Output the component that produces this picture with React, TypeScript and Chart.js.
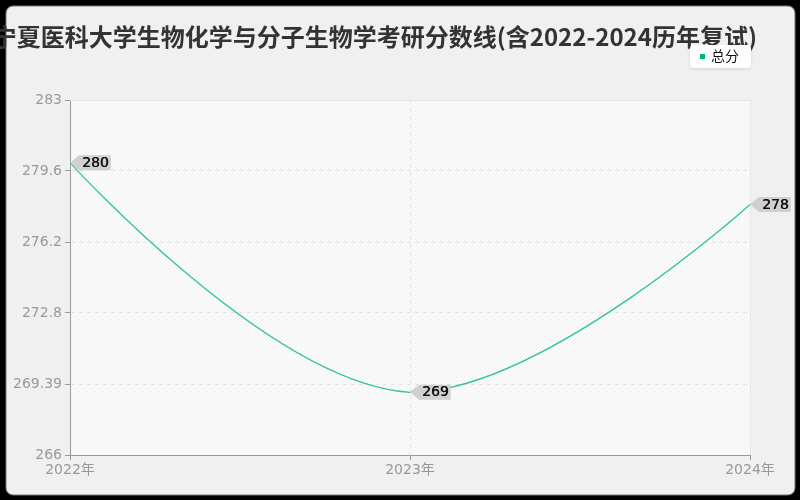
import React, { useEffect, useRef } from 'react';
import { Chart, registerables } from 'chart.js';

Chart.register(...registerables);

const titleText = '宁夏医科大学生物化学与分子生物学考研分数线(含2022-2024历年复试)';
const years = ['2022年', '2023年', '2024年'];
const totalScores = [280, 269, 278];
const yTickValues = [266, 269.4, 272.8, 276.2, 279.6, 283];
const yTickLabels = ['266', '269.39', '272.8', '276.2', '279.6', '283'];
const seriesName = '总分';

const lineColor = '#2ec49a';

const framePlugin = {
  id: 'frame',
  beforeDraw(chart: any) {
    const { ctx, width, height, chartArea } = chart;
    ctx.save();
    ctx.fillStyle = '#000';
    ctx.fillRect(0, 0, width, height);
    ctx.beginPath();
    ctx.roundRect(6, 6, 789, 489, 7);
    ctx.fillStyle = '#f0f0f0';
    ctx.fill();
    ctx.strokeStyle = '#777';
    ctx.lineWidth = 1;
    ctx.stroke();

    // plot background with fine hatching
    const { left, top, right, bottom } = chartArea;
    ctx.fillStyle = '#fbfbfb';
    ctx.fillRect(left, top, right - left, bottom - top);
    ctx.beginPath();
    ctx.rect(left, top, right - left, bottom - top);
    ctx.clip();
    ctx.strokeStyle = '#f0f0f0';
    ctx.lineWidth = 1;
    for (let x = left - (bottom - top); x < right; x += 4) {
      ctx.beginPath();
      ctx.moveTo(x, bottom);
      ctx.lineTo(x + (bottom - top), top);
      ctx.stroke();
    }
    ctx.restore();
  },
  beforeDatasetsDraw(chart: any) {
    const { ctx, chartArea } = chart;
    const { left, top, right, bottom } = chartArea;
    ctx.save();
    ctx.strokeStyle = '#e6e6e6';
    ctx.lineWidth = 1;
    ctx.beginPath();
    ctx.moveTo(left, top + 0.5);
    ctx.lineTo(right + 0.5, top + 0.5);
    ctx.lineTo(right + 0.5, bottom);
    ctx.stroke();
    ctx.restore();

    // echarts-style smoothing: end control points sit on the end points,
    // inner control points clamped to the data's y range
    const meta = chart.getDatasetMeta(0);
    const pts = meta.data;
    if (pts.length > 1) {
      const ys = pts.map((p: any) => p.y);
      const minY = Math.min(...ys);
      const maxY = Math.max(...ys);
      const first = pts[0];
      const last = pts[pts.length - 1];
      first.cp1x = first.cp2x = first.x;
      first.cp1y = first.cp2y = first.y;
      last.cp1x = last.cp2x = last.x;
      last.cp1y = last.cp2y = last.y;
      pts.forEach((p: any) => {
        p.cp1y = Math.min(maxY, Math.max(minY, p.cp1y));
        p.cp2y = Math.min(maxY, Math.max(minY, p.cp2y));
      });
      meta.dataset._path = undefined;
    }
  },
  afterDraw(chart: any) {
    const { ctx } = chart;
    ctx.save();
    // title
    ctx.font = "bold 24px 'Noto Sans CJK SC', sans-serif";
    ctx.fillStyle = '#333';
    ctx.textAlign = 'right';
    ctx.textBaseline = 'middle';
    ctx.fillText(titleText, 757, 37);

    // legend
    ctx.shadowColor = 'rgba(0,0,0,0.12)';
    ctx.shadowBlur = 3;
    ctx.shadowOffsetY = 1;
    ctx.beginPath();
    ctx.roundRect(690, 45, 61, 23, 4);
    ctx.fillStyle = '#fff';
    ctx.fill();
    ctx.shadowColor = 'transparent';
    ctx.fillStyle = '#00b386';
    ctx.fillRect(700, 54, 5, 5);
    ctx.fillStyle = '#111';
    ctx.font = "14px 'Noto Sans CJK SC', sans-serif";
    ctx.textAlign = 'left';
    ctx.fillText(seriesName, 711, 56);
    ctx.restore();
  },
  afterDatasetsDraw(chart: any) {
    const { ctx } = chart;
    const meta = chart.getDatasetMeta(0);
    ctx.save();
    ctx.font = "14px 'DejaVu Sans', sans-serif";
    ctx.textBaseline = 'middle';
    ctx.textAlign = 'left';
    meta.data.forEach((pt: any, i: number) => {
      const label = String(totalScores[i]);
      const tw = ctx.measureText(label).width;
      const x = pt.x;
      const y = pt.y;
      const bx = x + 9;
      const bw = tw + 5;
      ctx.beginPath();
      ctx.moveTo(x, y);
      ctx.lineTo(bx, y - 7.5);
      ctx.lineTo(bx + bw, y - 7.5);
      ctx.lineTo(bx + bw, y + 7.5);
      ctx.lineTo(bx, y + 7.5);
      ctx.closePath();
      ctx.fillStyle = '#d0d0d0';
      ctx.fill();
      ctx.fillStyle = '#111';
      ctx.fillText(label, bx + 3, y + 0.5);
      ctx.fillText(label, bx + 3.4, y + 0.5);
    });
    ctx.restore();
  },
};

const App: React.FC = () => {
  const chartRef = useRef<HTMLCanvasElement>(null);

  useEffect(() => {
    document.body.style.margin = '0';
    if (!chartRef.current) return;
    const chart = new Chart(chartRef.current, {
      type: 'line',
      data: {
        labels: years,
        datasets: [
          {
            label: seriesName,
            data: totalScores,
            borderColor: lineColor,
            backgroundColor: lineColor,
            borderWidth: 1.3,
            pointRadius: 0,
            tension: 0.4,
            fill: false,
          },
        ],
      },
      options: {
        responsive: false,
        animation: false,
        layout: { padding: { left: 0, top: 100, right: 50, bottom: 0 } },
        plugins: {
          legend: { display: false },
          title: { display: false },
          tooltip: { enabled: false },
        },
        scales: {
          x: {
            offset: false,
            border: { color: '#999', width: 1, dash: [4, 4] },
            grid: {
              color: '#e4e4e4',
              tickColor: '#999',
              tickLength: 5,
              drawTicks: true,
            },
            ticks: {
              color: '#999',
              font: { family: "'DejaVu Sans', 'Noto Sans CJK SC', sans-serif", size: 14 },
              maxRotation: 0,
              padding: 2,
            },
            afterFit(scale: any) {
              scale.height = 45;
            },
          },
          y: {
            min: 266,
            max: 283,
            border: { color: '#999', width: 1, dash: [4, 4] },
            grid: {
              color: '#e4e4e4',
              tickColor: '#999',
              tickLength: 5,
            },
            afterBuildTicks(scale: any) {
              scale.ticks = yTickValues.map((v) => ({ value: v }));
            },
            ticks: {
              color: '#999',
              font: { family: "'DejaVu Sans', sans-serif", size: 14 },
              padding: 3,
              callback: (_v: any, i: number) => yTickLabels[i],
            },
            afterFit(scale: any) {
              scale.width = 70;
            },
          },
        },
      },
      plugins: [framePlugin],
    });
    return () => {
      chart.destroy();
    };
  }, []);

  return (
    <div style={{ width: 800, height: 500 }}>
      <canvas ref={chartRef} width={800} height={500} />
    </div>
  );
};

export default App;
